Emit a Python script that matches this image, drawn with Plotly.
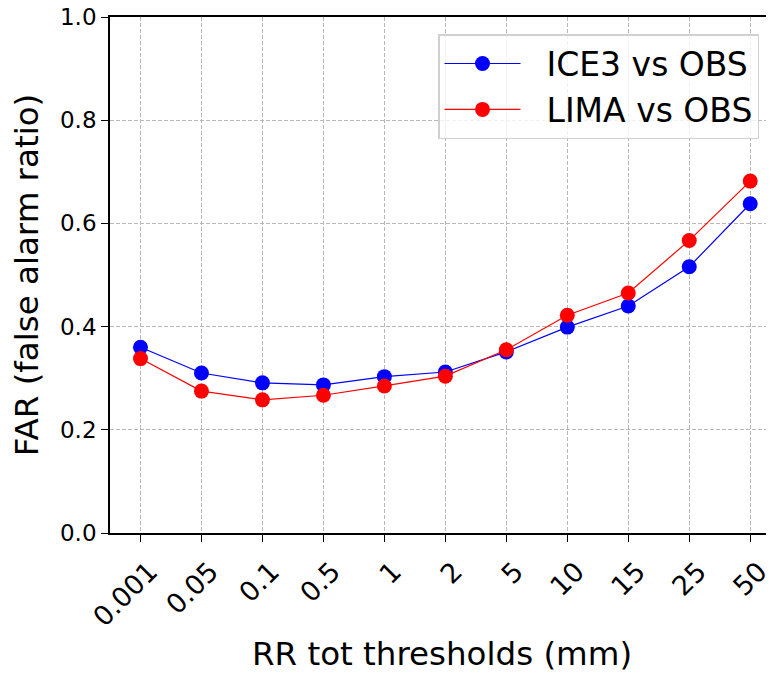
import plotly.graph_objects as go

thresholds = ["0.001", "0.05", "0.1", "0.5", "1", "2", "5", "10", "15", "25", "50"]
ice3_far = [0.360, 0.310, 0.291, 0.287, 0.303, 0.312, 0.351, 0.399, 0.440, 0.516, 0.638]
lima_far = [0.338, 0.275, 0.258, 0.267, 0.285, 0.304, 0.355, 0.422, 0.465, 0.567, 0.682]
y_ticks = [0.0, 0.2, 0.4, 0.6, 0.8, 1.0]
series_names = ["ICE3 vs OBS", "LIMA vs OBS"]

x_idx = list(range(len(thresholds)))
pad = "\u00a0\u00a0"

fig = go.Figure()
fig.add_trace(go.Scatter(x=x_idx, y=ice3_far, mode="lines+markers", name=pad + series_names[0],
                         line=dict(color="blue", width=1.2), marker=dict(color="blue", size=15)))
fig.add_trace(go.Scatter(x=x_idx, y=lima_far, mode="lines+markers", name=pad + series_names[1],
                         line=dict(color="red", width=1.2), marker=dict(color="red", size=15)))

font = "DejaVu Sans"
grid = dict(showgrid=True, gridcolor="#b8b8b8", griddash="4px,2px", gridwidth=1)
# the page body adds an 8px offset; the figure is sized so the plot lands where the reference has it
fig.update_layout(
    width=766, height=665,
    margin=dict(l=102, r=0, t=9, b=140),
    paper_bgcolor="white", plot_bgcolor="white",
    font=dict(family=font, color="black"),
    showlegend=True,
    legend=dict(x=0.494, y=0.967, xanchor="left", yanchor="top",
                bgcolor="rgba(255,255,255,0.8)", bordercolor="#d0d0d0", borderwidth=1.5,
                font=dict(size=33, family=font), itemwidth=76),
)
fig.update_xaxes(
    range=[-0.5, 10.39], tickmode="array", tickvals=x_idx, ticktext=thresholds,
    tickangle=-45, tickfont=dict(size=27, family=font), ticklabelshift=9,
    ticklabeloverflow="allow", ticklabelstandoff=3,
    ticks="outside", ticklen=7, tickwidth=1.4, tickcolor="black",
    showline=True, linecolor="black", linewidth=1.7, mirror=True,
    zeroline=False, automargin=False, **grid,
    title=dict(text="RR tot thresholds (mm)", font=dict(size=32.5, family=font), standoff=18),
)
fig.update_yaxes(
    range=[0, 1.0], tickmode="array", tickvals=y_ticks,
    ticktext=[f"{v:.1f}" for v in y_ticks],
    tickfont=dict(size=23, family=font), ticklabeloverflow="allow",
    ticks="outside", ticklen=7, tickwidth=1.4, tickcolor="black",
    showline=True, linecolor="black", linewidth=1.7,
    zeroline=False, automargin=False, **grid,
    title=dict(text="FAR (false alarm ratio)", font=dict(size=32.5, family=font), standoff=19),
)
fig.write_html("out.html")
